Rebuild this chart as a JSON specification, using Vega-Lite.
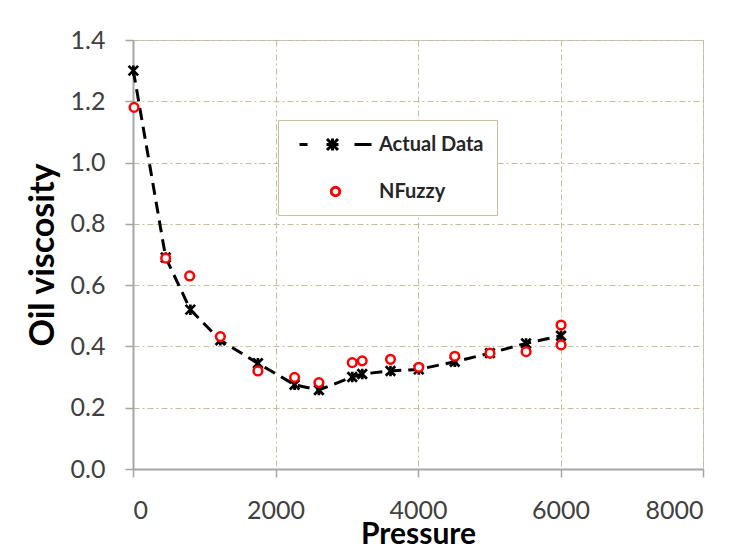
{
  "$schema": "https://vega.github.io/schema/vega-lite/v6.json",
  "autosize": "none",
  "width": 570,
  "height": 429,
  "padding": {"left": 133, "top": 40, "right": 38, "bottom": 82},
  "background": "white",
  "config": {
    "view": {"stroke": "#c8c8c8", "strokeWidth": 1},
    "font": "Lato",
    "axis": {
      "labelFont": "Lato",
      "labelFontSize": 25,
      "labelColor": "#404040",
      "titleFont": "Lato",
      "titleFontWeight": "bold",
      "titleColor": "#000000",
      "domainColor": "#a6a6a6",
      "domainWidth": 2,
      "tickColor": "#a6a6a6",
      "tickWidth": 1.5,
      "tickSize": 8,
      "grid": true,
      "gridColor": "#c4bd97",
      "gridWidth": 1,
      "gridDash": [6, 3, 2, 3]
    }
  },
  "data": {
    "values": [
      {"pressure": 5, "viscosity": 1.30, "series": "Actual Data"},
      {"pressure": 459, "viscosity": 0.69, "series": "Actual Data"},
      {"pressure": 805, "viscosity": 0.52, "series": "Actual Data"},
      {"pressure": 1226, "viscosity": 0.42, "series": "Actual Data"},
      {"pressure": 1753, "viscosity": 0.345, "series": "Actual Data"},
      {"pressure": 2268, "viscosity": 0.275, "series": "Actual Data"},
      {"pressure": 2609, "viscosity": 0.258, "series": "Actual Data"},
      {"pressure": 3077, "viscosity": 0.30, "series": "Actual Data"},
      {"pressure": 3217, "viscosity": 0.31, "series": "Actual Data"},
      {"pressure": 3614, "viscosity": 0.32, "series": "Actual Data"},
      {"pressure": 4011, "viscosity": 0.325, "series": "Actual Data"},
      {"pressure": 4516, "viscosity": 0.35, "series": "Actual Data"},
      {"pressure": 5010, "viscosity": 0.378, "series": "Actual Data"},
      {"pressure": 5517, "viscosity": 0.41, "series": "Actual Data"},
      {"pressure": 6008, "viscosity": 0.435, "series": "Actual Data"},
      {"pressure": 15, "viscosity": 1.18, "series": "NFuzzy"},
      {"pressure": 459, "viscosity": 0.688, "series": "NFuzzy"},
      {"pressure": 795, "viscosity": 0.63, "series": "NFuzzy"},
      {"pressure": 1226, "viscosity": 0.432, "series": "NFuzzy"},
      {"pressure": 1753, "viscosity": 0.32, "series": "NFuzzy"},
      {"pressure": 2268, "viscosity": 0.299, "series": "NFuzzy"},
      {"pressure": 2609, "viscosity": 0.282, "series": "NFuzzy"},
      {"pressure": 3077, "viscosity": 0.347, "series": "NFuzzy"},
      {"pressure": 3217, "viscosity": 0.353, "series": "NFuzzy"},
      {"pressure": 3614, "viscosity": 0.358, "series": "NFuzzy"},
      {"pressure": 4011, "viscosity": 0.332, "series": "NFuzzy"},
      {"pressure": 4516, "viscosity": 0.368, "series": "NFuzzy"},
      {"pressure": 5010, "viscosity": 0.378, "series": "NFuzzy"},
      {"pressure": 5517, "viscosity": 0.383, "series": "NFuzzy"},
      {"pressure": 6008, "viscosity": 0.47, "series": "NFuzzy"},
      {"pressure": 6008, "viscosity": 0.405, "series": "NFuzzy"}
    ]
  },
  "encoding": {
    "x": {
      "field": "pressure",
      "type": "quantitative",
      "title": "Pressure",
      "scale": {"domain": [0, 8000], "nice": false},
      "axis": {"values": [0, 2000, 4000, 6000, 8000], "format": "d", "labelPadding": 21, "titleFontSize": 30, "titlePadding": -4}
    },
    "y": {
      "field": "viscosity",
      "type": "quantitative",
      "title": "Oil viscosity",
      "scale": {"domain": [0, 1.4], "nice": false},
      "axis": {"values": [0, 0.2, 0.4, 0.6, 0.8, 1.0, 1.2, 1.4], "format": ".1f", "labelPadding": 20, "titleFontSize": 34, "titlePadding": 10}
    }
  },
  "layer": [
    {
      "transform": [{"filter": "datum.series === 'Actual Data'"}],
      "mark": {"type": "line", "color": "black", "strokeWidth": 3, "strokeDash": [12, 7]},
      "encoding": {}
    },
    {
      "transform": [{"filter": "datum.series === 'Actual Data'"}],
      "mark": {"type": "point", "shape": "M-1,-1L1,1M-1,1L1,-1M0,-1.1L0,1.1", "filled": false, "color": "black", "strokeWidth": 2.7, "size": 90, "opacity": 1},
      "encoding": {}
    },
    {
      "transform": [{"filter": "datum.series === 'NFuzzy'"}],
      "mark": {"type": "point", "shape": "circle", "filled": false, "fill": "white", "color": "#ff0000", "strokeWidth": 2.5, "size": 75, "opacity": 1},
      "encoding": {}
    },
    {
      "transform": [{"filter": "false"}],
      "mark": {"type": "point", "filled": false, "strokeWidth": 2.5, "opacity": 1},
      "encoding": {
        "color": {
          "field": "series",
          "type": "nominal",
          "scale": {"domain": ["Actual Data", "NFuzzy"], "range": ["#000000", "#ff0000"]},
          "legend": {
            "title": null,
            "orient": "none",
            "legendX": 145,
            "legendY": 80,
            "padding": 13,
            "fillColor": "white",
            "strokeColor": "#c8c09a",
            "symbolSize": 400,
            "symbolOffset": 33,
            "labelOffset": 32,
            "rowPadding": 23,
            "labelFont": "Lato",
            "labelFontSize": 20,
            "labelFontWeight": "bold",
            "labelColor": "#262626",
            "symbolStrokeWidth": 3
          }
        },
        "shape": {
          "field": "series",
          "type": "nominal",
          "scale": {
            "domain": ["Actual Data", "NFuzzy"],
            "range": [
              "M-3.6,0L-2.8,0M1.9,0L3.6,0M-0.85,-0.55L0.25,0.55M-0.85,0.55L0.25,-0.55M-0.3,-0.6L-0.3,0.6M-0.9,0L0.3,0",
              "M-0.42,0A0.42,0.42 0 1,0 0.42,0A0.42,0.42 0 1,0 -0.42,0Z"
            ]
          },
          "legend": null
        }
      }
    }
  ]
}
